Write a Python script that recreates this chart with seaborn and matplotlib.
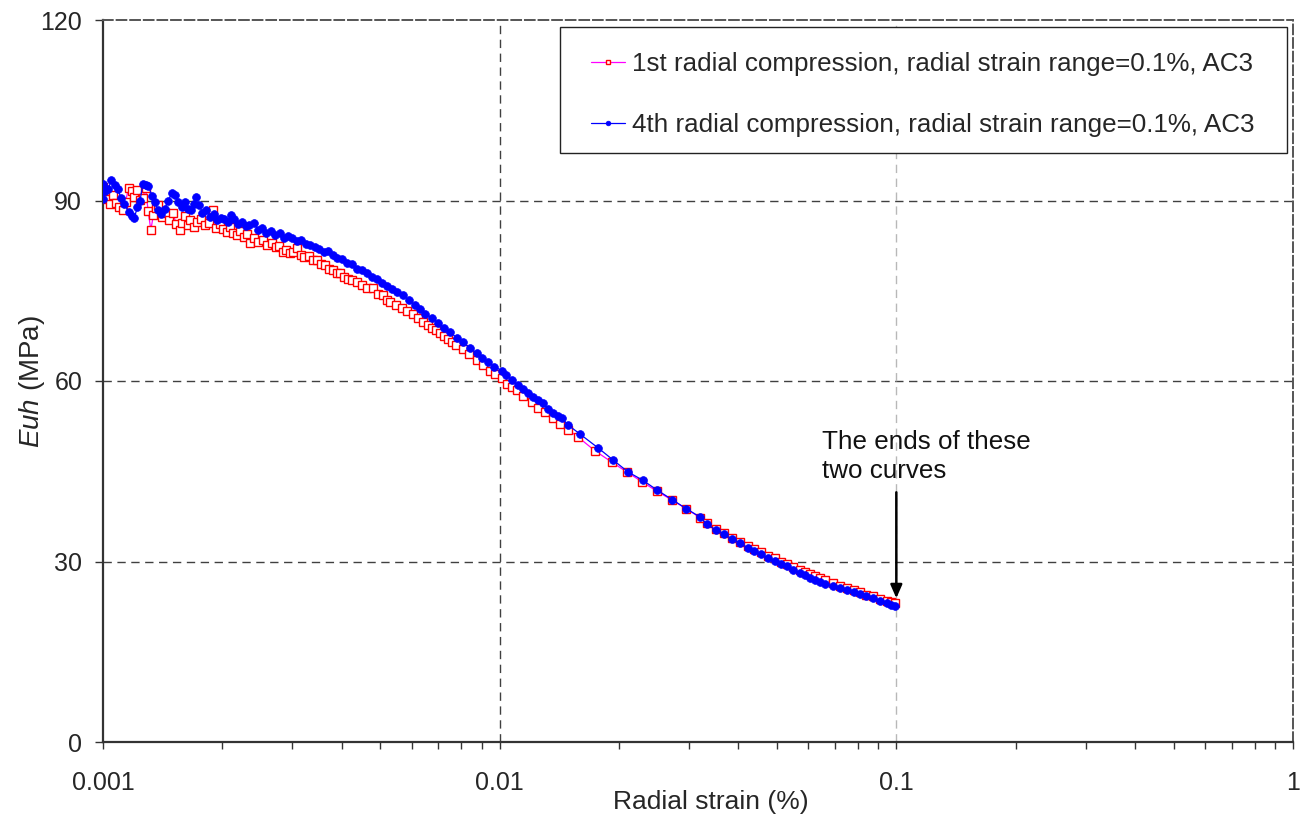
import numpy as np
import pandas as pd
import matplotlib
matplotlib.use("Agg")
import matplotlib.pyplot as plt
from matplotlib.patches import Rectangle
import seaborn as sns

# Radial strain (%) and horizontal Young's modulus Euh (MPa), AC3 specimen
strain_1st = [
    0.00100, 0.00100, 0.00102, 0.00104, 0.00106, 0.00108, 0.00110, 0.00112, 0.00114, 0.00116,
    0.00118, 0.00120, 0.00122, 0.00124, 0.00126, 0.00128, 0.00130, 0.00132, 0.00134, 0.00136,
    0.00138, 0.00141, 0.00144, 0.00147, 0.00150, 0.00153, 0.00156, 0.00158, 0.00161, 0.00164,
    0.00166, 0.00170, 0.00173, 0.00177, 0.00181, 0.00185, 0.00189, 0.00193, 0.00197, 0.00201,
    0.00205, 0.00209, 0.00213, 0.00218, 0.00222, 0.00227, 0.00231, 0.00235, 0.00240, 0.00246,
    0.00253, 0.00259, 0.00266, 0.00273, 0.00278, 0.00284, 0.00290, 0.00296, 0.00302, 0.00308,
    0.00315, 0.00322, 0.00330, 0.00338, 0.00346, 0.00354, 0.00362, 0.00371, 0.00380, 0.00388,
    0.00396, 0.00405, 0.00414, 0.00424, 0.00437, 0.00450, 0.00464, 0.00479, 0.00494, 0.00508,
    0.00520, 0.00529, 0.00548, 0.00567, 0.00585, 0.00605, 0.00623, 0.00641, 0.00658, 0.00675,
    0.00690, 0.00707, 0.00724, 0.00741, 0.00758, 0.00776, 0.00808, 0.00837, 0.00877, 0.00908,
    0.00945, 0.00973, 0.01013, 0.01043, 0.01075, 0.01106, 0.01145, 0.01206, 0.01249, 0.01300,
    0.01363, 0.01419, 0.01487, 0.01575, 0.01739, 0.01919, 0.02090, 0.02290, 0.02490, 0.02720,
    0.02950, 0.03200, 0.03330, 0.03510, 0.03680, 0.03850, 0.04030, 0.04230, 0.04380, 0.04560,
    0.04750, 0.04940, 0.05120, 0.05300, 0.05500, 0.05710, 0.05900, 0.06050, 0.06230, 0.06410,
    0.06600, 0.06920, 0.07200, 0.07500, 0.07800, 0.08090, 0.08400, 0.08730, 0.09100, 0.09460,
    0.09700, 0.09920,
]
euh_1st = [
    92.2, 91.2, 90.3, 89.4, 90.9, 89.6, 88.9, 88.4, 89.8, 92.1,
    91.5, 90.6, 91.7, 90.1, 90.4, 92.1, 88.2, 85.1, 87.6, 88.8,
    89.2, 87.3, 88.0, 86.7, 87.9, 86.1, 85.1, 86.3, 87.4, 86.0,
    86.8, 85.6, 86.4, 87.0, 85.9, 86.2, 88.4, 85.4, 86.1, 85.2,
    84.8, 85.6, 84.6, 84.3, 85.0, 83.9, 84.4, 82.9, 83.7, 83.1,
    83.4, 82.6, 83.0, 82.2, 82.5, 81.4, 81.8, 81.2, 81.5, 82.1,
    81.0, 80.6, 80.8, 80.1, 80.1, 79.5, 79.2, 78.6, 78.4, 77.9,
    77.9, 77.3, 77.0, 76.8, 76.5, 75.9, 75.5, 75.5, 74.5, 74.3,
    73.5, 73.1, 72.6, 72.1, 71.6, 71.1, 70.4, 69.8, 69.3, 68.8,
    68.4, 68.0, 67.5, 67.0, 66.5, 66.0, 65.3, 64.5, 63.5, 62.7,
    61.7, 61.2, 60.5, 59.5, 59.0, 58.5, 57.5, 56.5, 55.5, 54.8,
    53.8, 52.8, 51.9, 50.7, 48.4, 46.5, 44.9, 43.2, 41.7, 40.2,
    38.8, 37.3, 36.4, 35.4, 34.7, 33.9, 33.3, 32.5, 32.0, 31.5,
    30.9, 30.5, 30.0, 29.6, 29.1, 28.6, 28.2, 27.9, 27.6, 27.2,
    26.9, 26.4, 26.0, 25.6, 25.2, 24.9, 24.5, 24.2, 23.8, 23.5,
    23.3, 23.1,
]

strain_4th = [
    0.00100, 0.00100, 0.00101, 0.00103, 0.00105, 0.00107, 0.00109, 0.00111, 0.00113, 0.00116,
    0.00118, 0.00120, 0.00122, 0.00124, 0.00126, 0.00128, 0.00130, 0.00133, 0.00135, 0.00138,
    0.00140, 0.00143, 0.00146, 0.00149, 0.00152, 0.00155, 0.00158, 0.00161, 0.00164, 0.00167,
    0.00170, 0.00172, 0.00175, 0.00178, 0.00182, 0.00186, 0.00190, 0.00194, 0.00198, 0.00202,
    0.00206, 0.00210, 0.00214, 0.00219, 0.00224, 0.00229, 0.00234, 0.00240, 0.00246, 0.00252,
    0.00258, 0.00265, 0.00272, 0.00279, 0.00286, 0.00293, 0.00300, 0.00308, 0.00316, 0.00324,
    0.00333, 0.00342, 0.00351, 0.00360, 0.00370, 0.00380, 0.00390, 0.00400, 0.00412, 0.00424,
    0.00436, 0.00449, 0.00462, 0.00476, 0.00490, 0.00505, 0.00520, 0.00536, 0.00552, 0.00570,
    0.00590, 0.00610, 0.00630, 0.00650, 0.00675, 0.00700, 0.00725, 0.00750, 0.00780, 0.00808,
    0.00840, 0.00877, 0.00905, 0.00934, 0.00970, 0.01013, 0.01040, 0.01074, 0.01110, 0.01145,
    0.01180, 0.01213, 0.01250, 0.01286, 0.01325, 0.01363, 0.01400, 0.01436, 0.01487, 0.01593,
    0.01769, 0.01930, 0.02105, 0.02296, 0.02490, 0.02720, 0.02950, 0.03200, 0.03330, 0.03510,
    0.03680, 0.03850, 0.04030, 0.04230, 0.04380, 0.04560, 0.04750, 0.04940, 0.05120, 0.05300,
    0.05500, 0.05710, 0.05900, 0.06050, 0.06230, 0.06410, 0.06600, 0.06920, 0.07200, 0.07500,
    0.07800, 0.08090, 0.08400, 0.08730, 0.09100, 0.09460, 0.09700, 0.09920,
]
euh_4th = [
    92.8, 90.2, 91.5, 91.9, 93.4, 92.6, 91.9, 90.4, 89.5, 88.1,
    87.4, 87.1, 88.9, 90.0, 92.7, 92.5, 92.4, 90.8, 89.7, 88.4,
    87.8, 88.6, 89.9, 91.2, 90.9, 89.7, 89.0, 89.7, 88.6, 88.4,
    89.5, 90.6, 89.2, 88.0, 88.4, 87.3, 87.8, 86.8, 87.1, 87.0,
    86.4, 87.6, 86.9, 86.1, 86.5, 85.8, 85.9, 86.3, 85.1, 85.5,
    84.6, 85.0, 84.3, 84.6, 83.7, 84.1, 83.8, 83.2, 83.5, 82.8,
    82.6, 82.3, 82.0, 81.5, 81.6, 80.9, 80.4, 80.2, 79.6, 79.4,
    78.6, 78.4, 77.9, 77.3, 77.0, 76.3, 75.8, 75.3, 74.8, 74.3,
    73.4, 72.6, 71.9, 71.2, 70.4, 69.7, 68.8, 68.1, 67.2, 66.5,
    65.5, 64.6, 63.8, 63.1, 62.4, 61.7, 61.0, 60.2, 59.4, 58.7,
    58.0, 57.3, 56.8, 56.3, 55.4, 54.7, 54.2, 53.8, 52.7, 51.2,
    48.9, 46.9, 44.9, 43.5, 41.9, 40.3, 38.8, 37.4, 36.2, 35.2,
    34.6, 33.7, 33.1, 32.2, 31.7, 31.2, 30.6, 30.1, 29.6, 29.2,
    28.6, 28.1, 27.7, 27.3, 27.0, 26.6, 26.3, 25.9, 25.6, 25.3,
    24.9, 24.6, 24.2, 23.9, 23.5, 23.1, 22.8, 22.6,
]

label_1st = "1st radial compression, radial strain range=0.1%, AC3"
label_4th = "4th radial compression, radial strain range=0.1%, AC3"

x_ticks = [0.001, 0.01, 0.1, 1]
x_tick_labels = ["0.001", "0.01", "0.1", "1"]
y_ticks = [0, 30, 60, 90, 120]

df_1st = pd.DataFrame({"strain": strain_1st, "euh": euh_1st})
df_4th = pd.DataFrame({"strain": strain_4th, "euh": euh_4th})

sns.set_style("ticks")
plt.rcParams["font.family"] = ["Liberation Sans", "DejaVu Sans"]
plt.rcParams["mathtext.fontset"] = "custom"
plt.rcParams["mathtext.rm"] = "Liberation Sans"
plt.rcParams["mathtext.it"] = "Liberation Sans:italic"

fig = plt.figure(figsize=(13.08, 8.17), dpi=100)
ax = fig.add_axes([103 / 1308, 1 - 742 / 817, 1190 / 1308, 722 / 817])

# dashed reference grid
for yv in [30, 60, 90]:
    ax.axhline(yv, color="#404040", lw=1.0, ls=(0, (6, 4)), zorder=1)
ax.axvline(0.01, color="#404040", lw=1.0, ls=(0, (6, 4)), zorder=1)
ax.axvline(0.1, color="#b8b8b8", lw=1.0, ls=(0, (6, 4)), zorder=1)

sns.lineplot(data=df_1st, x="strain", y="euh", ax=ax, sort=False, estimator=None,
             color="#ff00ff", lw=0.9, marker="s", markersize=5.9,
             markerfacecolor="white", markeredgecolor="red", markeredgewidth=1.0,
             label=label_1st, zorder=3)
sns.lineplot(data=df_4th, x="strain", y="euh", ax=ax, sort=False, estimator=None,
             color="#0000ff", lw=0.9, marker="o", markersize=5.6,
             markerfacecolor="#0000ff", markeredgecolor="#0000ff", markeredgewidth=0.5,
             label=label_4th, zorder=4)

ax.set_xscale("log")
ax.set_xlim(0.001, 1)
ax.set_ylim(0, 120)
ax.set_xticks(x_ticks)
ax.set_xticklabels(x_tick_labels)
ax.set_yticks(y_ticks)

ax.tick_params(axis="both", which="major", labelsize=18, color="#333333",
               direction="out", width=1.0)
ax.tick_params(axis="x", which="major", length=5, pad=16)
ax.tick_params(axis="x", which="minor", length=5, width=1.0, color="#333333")
ax.tick_params(axis="y", which="major", length=6, pad=9)

for side in ["left", "bottom"]:
    ax.spines[side].set_color("#333333")
    ax.spines[side].set_linewidth(1.6)
for side in ["top", "right"]:
    ax.spines[side].set_color("#555555")
    ax.spines[side].set_linewidth(1.4)
    ax.spines[side].set_linestyle((0, (5, 2)))

ax.set_xlabel("Radial strain (%)", fontsize=19)
ax.set_ylabel(r"$\mathit{Euh}$ (MPa)", fontsize=20)
ax.xaxis.set_label_coords(0.511, -0.066)
ax.yaxis.set_label_coords(-0.047, 0.5)

# legend box with wide side margins
ax.add_patch(Rectangle((0.384, 0.8158), 0.611, 0.1745, transform=ax.transAxes,
                       facecolor="white", edgecolor="#222222", lw=1.0, zorder=7))
leg = ax.legend(loc="upper right", bbox_to_anchor=(0.968, 0.955), borderaxespad=0,
                borderpad=0, fontsize=18.7, frameon=False,
                handlelength=1.3, handletextpad=0.3, labelspacing=1.4,
                markerscale=0.6)
leg.set_zorder(8)

ax.annotate("", xy=(0.1, 23.9), xytext=(0.1, 41.5),
            arrowprops=dict(arrowstyle="-|>,head_length=0.8,head_width=0.35",
                            color="black", lw=1.8, shrinkA=0, shrinkB=0), zorder=6)
ax.text(0.0649, 51.8, "The ends of these\ntwo curves", fontsize=18.7,
        ha="left", va="top", color="#111111", linespacing=1.25)

fig.savefig("out.png", dpi=100)
